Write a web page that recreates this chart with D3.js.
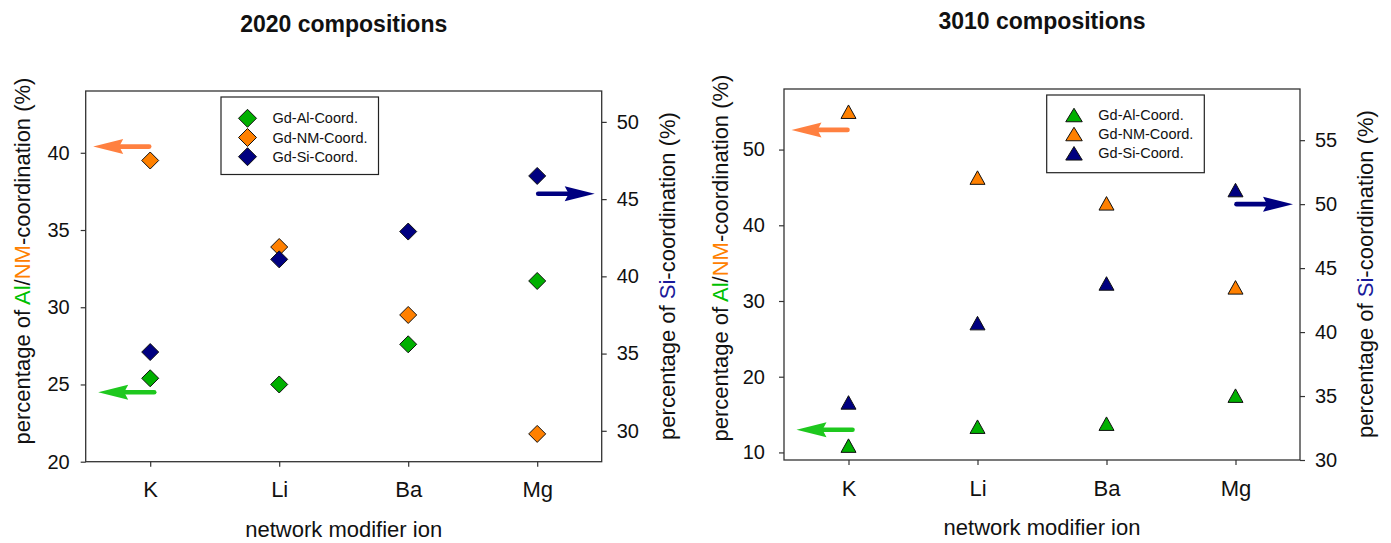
<!DOCTYPE html>
<html>
<head>
<meta charset="utf-8">
<script src="https://cdn.jsdelivr.net/npm/d3@7"></script>
<style>
  html, body { margin: 0; padding: 0; background: #fff; }
  svg { display: block; font-family: "Liberation Sans", Arial, sans-serif; }
</style>
</head>
<body>
<svg id="chart" width="1391" height="543"></svg>
<script>
// Network modifier ions on the x axis
const categories = ["K", "Li", "Ba", "Mg"];
const seriesNames = ["Gd-Al-Coord.", "Gd-NM-Coord.", "Gd-Si-Coord."];

// 2020 compositions: Al and NM on the left axis, Si on the right axis (%)
const al2020 = [25.4, 25.0, 27.6, 31.7];
const nm2020 = [39.5, 33.9, 29.5, 21.8];
const si2020 = [35.1, 41.1, 42.9, 46.5];

// 3010 compositions
const al3010 = [10.9, 13.4, 13.8, 17.5];
const nm3010 = [55.0, 46.3, 42.9, 31.8];
const si3010 = [34.5, 40.7, 43.8, 51.1];

// Axis domains and tick values
const left2020Domain = [20, 44];
const right2020Domain = [28, 52];
const left2020Ticks = [20, 25, 30, 35, 40];
const right2020Ticks = [30, 35, 40, 45, 50];

const left3010Domain = [9, 58];
const right3010Domain = [30, 59];
const left3010Ticks = [10, 20, 30, 40, 50];
const right3010Ticks = [30, 35, 40, 45, 50, 55];

// Reference-level arrows (axis values)
const arrows2020 = { nm: 40.4, al: 24.5, si: 45.35 };
const arrows3010 = { nm: 52.6, al: 13.0, si: 50.0 };

const colors = { al: "#00b000", nm: "#ff8000", si: "#000080" };
const arrowColors = { al: "#1ec81e", nm: "#ff8040", si: "#000080" };
const titleColors = { al: "#00c000", nm: "#ff8000", si: "#1a1a9a" };

const svg = d3.select("#chart");

function diamondPath(d) {
  const r = d / 2;
  return `M0,${-r}L${r},0L0,${r}L${-r},0Z`;
}
function trianglePath(w, h) {
  return `M0,${-h / 2}L${w / 2},${h / 2}L${-w / 2},${h / 2}Z`;
}

function drawArrow(g, x1, x2, y, color, pointLeft) {
  // shaft plus a triangular head at the pointing end
  const headLen = 30, headHalf = 7.5;
  const tip = pointLeft ? Math.min(x1, x2) : Math.max(x1, x2);
  const tail = pointLeft ? Math.max(x1, x2) : Math.min(x1, x2);
  const dir = pointLeft ? 1 : -1;
  g.append("line")
    .attr("x1", tail).attr("x2", tip + dir * headLen * 0.6)
    .attr("y1", y).attr("y2", y)
    .attr("stroke", color).attr("stroke-width", 4.6).attr("stroke-linecap", "round");
  g.append("path")
    .attr("d", `M${tip},${y}L${tip + dir * headLen},${y - headHalf}L${tip + dir * (headLen - 4)},${y}L${tip + dir * headLen},${y + headHalf}Z`)
    .attr("fill", color);
}

function drawPanel(cfg) {
  const g = svg.append("g");
  const { x0, x1, y0, y1 } = cfg.box;

  const x = d3.scalePoint().domain(categories).range([x0, x1]).padding(0.5);
  const yL = d3.scaleLinear().domain(cfg.leftDomain).range([y1, y0]);
  const yR = d3.scaleLinear().domain(cfg.rightDomain).range([y1, y0]);

  // Frame
  g.append("rect")
    .attr("x", x0).attr("y", y0).attr("width", x1 - x0).attr("height", y1 - y0)
    .attr("fill", "none").attr("stroke", "#333").attr("stroke-width", 1.3);

  // Axes
  const axisL = d3.axisLeft(yL).tickValues(cfg.leftTicks).tickSize(5).tickPadding(cfg.tickPadL);
  const axisR = d3.axisRight(yR).tickValues(cfg.rightTicks).tickSize(5).tickPadding(cfg.tickPadR);
  const axisB = d3.axisBottom(x).tickSize(5).tickPadding(15);

  const gl = g.append("g").attr("transform", `translate(${x0},0)`).call(axisL);
  const gr = g.append("g").attr("transform", `translate(${x1},0)`).call(axisR);
  const gb = g.append("g").attr("transform", `translate(0,${y1})`).call(axisB);
  [gl, gr, gb].forEach(a => {
    a.select(".domain").remove();
    a.selectAll(".tick line").attr("stroke", "#333").attr("stroke-width", 1.2);
    a.selectAll(".tick text").attr("fill", "#111").attr("font-family", "Liberation Sans, Arial, sans-serif");
  });
  gl.selectAll(".tick text").attr("font-size", 20);
  gr.selectAll(".tick text").attr("font-size", 20);
  gb.selectAll(".tick text").attr("font-size", 22).attr("dy", "0.71em");

  // Title
  g.append("text")
    .attr("x", (x0 + x1) / 2).attr("y", cfg.titleY)
    .attr("text-anchor", "middle").attr("font-size", 23).attr("font-weight", "bold")
    .attr("fill", "#111").text(cfg.title);

  // x-axis title
  g.append("text")
    .attr("x", (x0 + x1) / 2).attr("y", cfg.xTitleY)
    .attr("text-anchor", "middle").attr("font-size", 22).attr("fill", "#111")
    .text("network modifier ion");

  // Left y title with coloured element names
  const lt = g.append("text")
    .attr("transform", `translate(${cfg.leftTitleX},${cfg.leftTitleCY}) rotate(-90)`)
    .attr("text-anchor", "middle").attr("font-size", 22).attr("fill", "#111");
  lt.append("tspan").text("percentage of ");
  lt.append("tspan").attr("fill", titleColors.al).text("Al");
  lt.append("tspan").text("/");
  lt.append("tspan").attr("fill", titleColors.nm).text("NM");
  lt.append("tspan").text("-coordination (%)");

  // Right y title
  const rt = g.append("text")
    .attr("transform", `translate(${cfg.rightTitleX},${cfg.rightTitleCY}) rotate(-90)`)
    .attr("text-anchor", "middle").attr("font-size", 22).attr("fill", "#111");
  rt.append("tspan").text("percentage of ");
  rt.append("tspan").attr("fill", titleColors.si).text("Si");
  rt.append("tspan").text("-coordination (%)");

  // Arrows indicating which axis each series belongs to
  const kx = x(categories[0]);
  const mx = x(categories[categories.length - 1]);
  drawArrow(g, kx - 57, kx - 1, yL(cfg.arrows.nm), arrowColors.nm, true);
  drawArrow(g, kx - 52, kx + 4, yL(cfg.arrows.al), arrowColors.al, true);
  drawArrow(g, mx + 1, x1 - 7, yR(cfg.arrows.si), arrowColors.si, false);

  // Markers
  const shape = cfg.symbol === "diamond" ? diamondPath(17) : trianglePath(15, 13.5);
  const series = [
    { key: "al", values: cfg.al, scale: yL },
    { key: "nm", values: cfg.nm, scale: yL },
    { key: "si", values: cfg.si, scale: yR }
  ];
  series.forEach(s => {
    g.append("g").selectAll("path")
      .data(categories.map((c, i) => ({ c, v: s.values[i] })))
      .join("path")
      .attr("d", shape)
      .attr("transform", d => `translate(${x(d.c)},${s.scale(d.v)})`)
      .attr("fill", colors[s.key]).attr("stroke", "#111").attr("stroke-width", 1);
  });

  // Legend
  const lg = cfg.legend;
  g.append("rect")
    .attr("x", lg.x0).attr("y", lg.y0).attr("width", lg.x1 - lg.x0).attr("height", lg.y1 - lg.y0)
    .attr("fill", "#fff").attr("stroke", "#222").attr("stroke-width", 1.2);
  const legShape = cfg.symbol === "diamond" ? diamondPath(18) : trianglePath(16.5, 13.5);
  ["al", "nm", "si"].forEach((k, i) => {
    const yy = lg.rows[i];
    g.append("path").attr("d", legShape)
      .attr("transform", `translate(${lg.symX},${yy})`)
      .attr("fill", colors[k]).attr("stroke", "#111").attr("stroke-width", 1);
    g.append("text").attr("x", lg.textX).attr("y", yy + 5)
      .attr("font-size", 14.5).attr("fill", "#111").text(seriesNames[i]);
  });
}

drawPanel({
  title: "2020 compositions",
  box: { x0: 85.7, x1: 601.7, y0: 91, y1: 461.7 },
  leftDomain: left2020Domain, rightDomain: right2020Domain,
  leftTicks: left2020Ticks, rightTicks: right2020Ticks,
  tickPadL: 11, tickPadR: 10,
  titleY: 32, xTitleY: 537,
  leftTitleX: 30, leftTitleCY: 261,
  rightTitleX: 675, rightTitleCY: 276,
  arrows: arrows2020,
  al: al2020, nm: nm2020, si: si2020,
  symbol: "diamond",
  legend: { x0: 221, x1: 378.5, y0: 97, y1: 174.5, symX: 247.5, textX: 272.5, rows: [118.3, 137.5, 156.7] }
});

drawPanel({
  title: "3010 compositions",
  box: { x0: 784, x1: 1300, y0: 89, y1: 460 },
  leftDomain: left3010Domain, rightDomain: right3010Domain,
  leftTicks: left3010Ticks, rightTicks: right3010Ticks,
  tickPadL: 14, tickPadR: 10,
  titleY: 29, xTitleY: 535,
  leftTitleX: 728, leftTitleCY: 258,
  rightTitleX: 1373, rightTitleCY: 274,
  arrows: arrows3010,
  al: al3010, nm: nm3010, si: si3010,
  symbol: "triangle",
  legend: { x0: 1046.7, x1: 1204.3, y0: 95, y1: 172.7, symX: 1074, textX: 1098.3, rows: [115, 134, 153.3] }
});
</script>
</body>
</html>
